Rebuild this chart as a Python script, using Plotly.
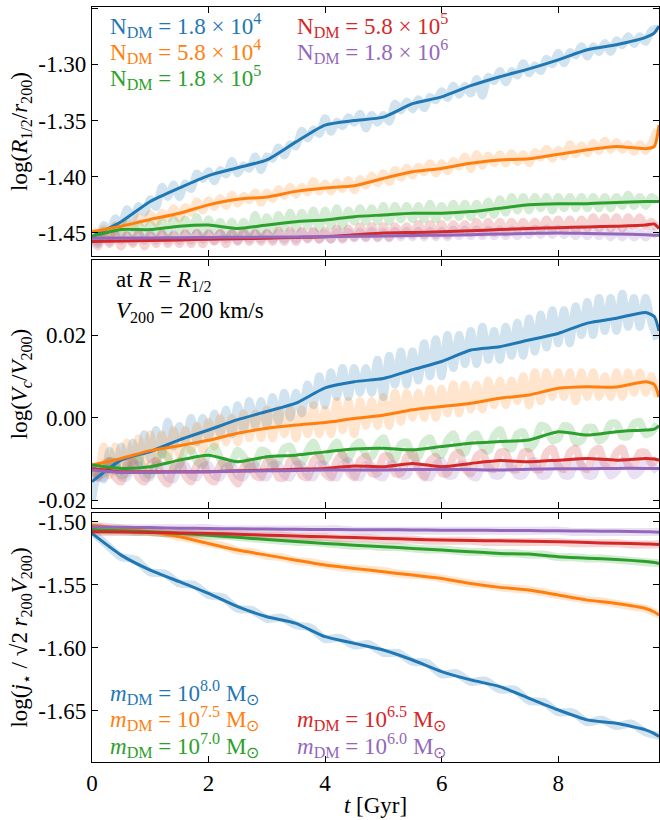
import numpy as np
import plotly.graph_objects as go

# ---------------- data ----------------
t_s = [0, 0.5, 1, 1.5, 2, 2.5, 3, 3.5, 4, 4.5, 5, 5.5, 6, 6.5, 7, 7.5, 8, 8.5, 9, 9.5, 9.65, 9.73]
t_raw = np.round(np.arange(0, 9.75, 0.1), 1)          # 98 samples
t_raw3 = np.arange(0, 9.76, 0.25)                      # 40 samples

colors = ["#1f77b4", "#ff7f0e", "#2ca02c", "#d62728", "#9467bd"]

# panel 1 : log(R_1/2 / r_200) smoothed
r_blue = [-1.453, -1.440, -1.422, -1.410, -1.399, -1.392, -1.385, -1.369, -1.354, -1.350, -1.347,
          -1.335, -1.329, -1.319, -1.311, -1.304, -1.296, -1.287, -1.2825, -1.276, -1.272, -1.266]
r_orange = [-1.449, -1.444, -1.438, -1.4325, -1.425, -1.420, -1.418, -1.413, -1.410, -1.408, -1.4015,
            -1.3956, -1.3926, -1.388, -1.385, -1.384, -1.380, -1.376, -1.373, -1.375, -1.373, -1.354]
r_green = [-1.453, -1.447, -1.447, -1.444, -1.443, -1.446, -1.443, -1.440, -1.4385, -1.4355, -1.434,
           -1.4325, -1.4325, -1.431, -1.428, -1.425, -1.424, -1.424, -1.423, -1.422, -1.422, -1.422]
r_red = [-1.4577, -1.4572, -1.4568, -1.4562, -1.4556, -1.4552, -1.4547, -1.454, -1.4533, -1.4517, -1.450,
         -1.4495, -1.449, -1.448, -1.447, -1.446, -1.4453, -1.4447, -1.444, -1.443, -1.442, -1.446]
r_purple = [-1.4547, -1.4545, -1.4544, -1.4542, -1.454, -1.4538, -1.4537, -1.4535, -1.4533, -1.453, -1.4527,
            -1.4523, -1.452, -1.4515, -1.451, -1.4505, -1.450, -1.4505, -1.451, -1.4515, -1.452, -1.452]

# panel 1 raw
rr_blue = [-1.453, -1.460, -1.443, -1.448, -1.437, -1.442, -1.429, -1.437, -1.426, -1.432,
           -1.420, -1.427, -1.409, -1.418, -1.407, -1.418, -1.406, -1.411, -1.397, -1.402,
           -1.395, -1.404, -1.394, -1.398, -1.386, -1.397, -1.390, -1.393, -1.382, -1.394,
           -1.382, -1.384, -1.374, -1.381, -1.371, -1.373, -1.359, -1.366, -1.358, -1.362,
           -1.348, -1.360, -1.351, -1.355, -1.347, -1.352, -1.344, -1.357, -1.345, -1.352,
           -1.345, -1.351, -1.335, -1.341, -1.333, -1.340, -1.331, -1.339, -1.329, -1.332,
           -1.324, -1.330, -1.319, -1.327, -1.319, -1.326, -1.313, -1.328, -1.311, -1.315,
           -1.306, -1.316, -1.306, -1.310, -1.299, -1.308, -1.301, -1.306, -1.295, -1.300,
           -1.290, -1.299, -1.289, -1.292, -1.284, -1.293, -1.284, -1.289, -1.281, -1.289,
           -1.2785, -1.283, -1.275, -1.282, -1.275, -1.280, -1.270, -1.268]
rr_orange = [-1.447, -1.453, -1.446, -1.455, -1.443, -1.448, -1.440, -1.446, -1.436, -1.441,
             -1.433, -1.441, -1.432, -1.437, -1.428, -1.437, -1.427, -1.432, -1.422, -1.430,
             -1.421, -1.427, -1.419, -1.426, -1.416, -1.424, -1.417, -1.421, -1.414, -1.423,
             -1.414, -1.420, -1.411, -1.417, -1.409, -1.416, -1.409, -1.414, -1.404, -1.413,
             -1.406, -1.413, -1.405, -1.411, -1.403, -1.412, -1.402, -1.408, -1.399, -1.406,
             -1.397, -1.405, -1.394, -1.401, -1.392, -1.399, -1.391, -1.396, -1.388, -1.397,
             -1.388, -1.395, -1.386, -1.391, -1.382, -1.393, -1.380, -1.390, -1.381, -1.388,
             -1.380, -1.388, -1.379, -1.387, -1.380, -1.388, -1.378, -1.383, -1.375, -1.384,
             -1.376, -1.382, -1.371, -1.380, -1.372, -1.379, -1.370, -1.377, -1.368, -1.376,
             -1.369, -1.376, -1.371, -1.378, -1.371, -1.377, -1.370, -1.358]
rr_green = [-1.452, -1.456, -1.448, -1.454, -1.444, -1.452, -1.442, -1.450, -1.442, -1.452,
            -1.442, -1.450, -1.440, -1.450, -1.438, -1.448, -1.438, -1.448, -1.436, -1.450,
            -1.438, -1.448, -1.440, -1.452, -1.440, -1.452, -1.440, -1.450, -1.434, -1.450,
            -1.436, -1.448, -1.434, -1.446, -1.432, -1.446, -1.432, -1.444, -1.430, -1.446,
            -1.430, -1.444, -1.428, -1.444, -1.430, -1.440, -1.428, -1.440, -1.428, -1.440,
            -1.426, -1.440, -1.426, -1.438, -1.426, -1.438, -1.426, -1.438, -1.424, -1.438,
            -1.426, -1.436, -1.424, -1.436, -1.424, -1.436, -1.424, -1.434, -1.422, -1.434,
            -1.420, -1.432, -1.418, -1.430, -1.418, -1.430, -1.418, -1.428, -1.418, -1.430,
            -1.418, -1.428, -1.418, -1.428, -1.418, -1.428, -1.418, -1.428, -1.418, -1.428,
            -1.418, -1.426, -1.416, -1.426, -1.418, -1.426, -1.418, -1.422]
rr_red = [-1.456, -1.462, -1.452, -1.460, -1.452, -1.462, -1.452, -1.460, -1.450, -1.462,
          -1.452, -1.460, -1.450, -1.460, -1.452, -1.460, -1.450, -1.460, -1.450, -1.460,
          -1.450, -1.458, -1.450, -1.460, -1.450, -1.458, -1.448, -1.458, -1.450, -1.458,
          -1.450, -1.458, -1.448, -1.458, -1.448, -1.458, -1.448, -1.456, -1.448, -1.456,
          -1.448, -1.456, -1.446, -1.456, -1.446, -1.454, -1.444, -1.454, -1.444, -1.454,
          -1.444, -1.454, -1.444, -1.452, -1.444, -1.452, -1.442, -1.452, -1.442, -1.452,
          -1.442, -1.452, -1.442, -1.450, -1.442, -1.450, -1.440, -1.450, -1.440, -1.450,
          -1.440, -1.450, -1.440, -1.448, -1.440, -1.448, -1.440, -1.448, -1.438, -1.448,
          -1.438, -1.448, -1.438, -1.448, -1.438, -1.446, -1.436, -1.446, -1.436, -1.446,
          -1.436, -1.446, -1.436, -1.444, -1.436, -1.444, -1.440, -1.446]
rr_purple = [-1.454, -1.458, -1.452, -1.458, -1.451, -1.457, -1.452, -1.458, -1.451, -1.457,
             -1.451, -1.457, -1.451, -1.457, -1.451, -1.457, -1.451, -1.457, -1.450, -1.456,
             -1.451, -1.457, -1.450, -1.456, -1.450, -1.457, -1.450, -1.456, -1.450, -1.456,
             -1.450, -1.456, -1.450, -1.456, -1.450, -1.456, -1.449, -1.455, -1.449, -1.456,
             -1.450, -1.456, -1.449, -1.455, -1.449, -1.455, -1.449, -1.455, -1.448, -1.455,
             -1.449, -1.455, -1.448, -1.454, -1.448, -1.454, -1.448, -1.454, -1.448, -1.454,
             -1.448, -1.454, -1.447, -1.453, -1.447, -1.453, -1.447, -1.453, -1.447, -1.453,
             -1.447, -1.453, -1.447, -1.453, -1.447, -1.452, -1.446, -1.452, -1.446, -1.452,
             -1.446, -1.452, -1.447, -1.453, -1.447, -1.453, -1.447, -1.453, -1.448, -1.454,
             -1.448, -1.454, -1.448, -1.454, -1.449, -1.454, -1.449, -1.453]

# panel 2 : log(Vc / V200) smoothed
v_blue = [-0.0155, -0.0103, -0.0082, -0.0054, -0.0030, -0.0005, 0.0015, 0.0035, 0.0072, 0.0087, 0.0095,
          0.0116, 0.0136, 0.0164, 0.0172, 0.0188, 0.0204, 0.0229, 0.0241, 0.0255, 0.0245, 0.0210]
v_orange = [-0.0115, -0.0099, -0.0080, -0.0068, -0.0055, -0.0038, -0.0026, -0.0018, -0.0012, -0.0002, 0.0006,
            0.0019, 0.0027, 0.0035, 0.0047, 0.0055, 0.0071, 0.0075, 0.0074, 0.0087, 0.0080, 0.0050]
v_green = [-0.0115, -0.0123, -0.0119, -0.0103, -0.0091, -0.0107, -0.0095, -0.0091, -0.0083, -0.0076, -0.0074,
           -0.0078, -0.0070, -0.0062, -0.0058, -0.0054, -0.0034, -0.0042, -0.0034, -0.0030, -0.0028, -0.0020]
v_red = [-0.0123, -0.0131, -0.0131, -0.0131, -0.0131, -0.0129, -0.0127, -0.0125, -0.0123, -0.0117, -0.0119,
         -0.0111, -0.0119, -0.0111, -0.0104, -0.0107, -0.0103, -0.0099, -0.0103, -0.0099, -0.0100, -0.0103]
v_purple = [-0.0127, -0.0133, -0.0133, -0.0132, -0.0131, -0.0130, -0.0129, -0.0128, -0.0127, -0.0127, -0.0127,
            -0.0126, -0.0125, -0.0126, -0.0127, -0.0125, -0.0124, -0.0124, -0.0123, -0.0123, -0.0123, -0.0123]

# panel 2 raw
vr_blue = [-0.0200, -0.0140, -0.0150, -0.0080, -0.0130, -0.0070, -0.0120, -0.0060, -0.0110, -0.0040,
           -0.0100, -0.0030, -0.0090, -0.0010, -0.0070, -0.0020, -0.0060, 0.0000, -0.0060, 0.0000,
           -0.0050, 0.0010, -0.0040, 0.0020, -0.0040, 0.0030, -0.0030, 0.0040, -0.0020, 0.0040,
           -0.0020, 0.0050, -0.0010, 0.0060, 0.0000, 0.0060, 0.0010, 0.0080, 0.0030, 0.0100,
           0.0030, 0.0110, 0.0050, 0.0120, 0.0050, 0.0120, 0.0060, 0.0120, 0.0060, 0.0140,
           0.0050, 0.0150, 0.0080, 0.0160, 0.0080, 0.0160, 0.0090, 0.0180, 0.0100, 0.0190,
           0.0100, 0.0200, 0.0120, 0.0200, 0.0130, 0.0210, 0.0130, 0.0220, 0.0140, 0.0210,
           0.0140, 0.0220, 0.0150, 0.0230, 0.0150, 0.0240, 0.0160, 0.0250, 0.0170, 0.0260,
           0.0180, 0.0260, 0.0180, 0.0270, 0.0200, 0.0280, 0.0200, 0.0290, 0.0210, 0.0290,
           0.0210, 0.0300, 0.0220, 0.0290, 0.0220, 0.0290, 0.0230, 0.0190]
vr_orange = [-0.0110, -0.0140, -0.0070, -0.0140, -0.0070, -0.0130, -0.0060, -0.0120, -0.0050, -0.0110,
             -0.0040, -0.0110, -0.0040, -0.0100, -0.0030, -0.0090, -0.0030, -0.0080, -0.0020, -0.0080,
             -0.0010, -0.0070, 0.0000, -0.0060, 0.0000, -0.0060, 0.0010, -0.0050, 0.0010, -0.0050,
             0.0020, -0.0050, 0.0020, -0.0040, 0.0020, -0.0050, 0.0020, -0.0040, 0.0030, -0.0040,
             0.0020, -0.0040, 0.0040, -0.0030, 0.0040, -0.0040, 0.0040, -0.0020, 0.0040, -0.0020,
             0.0050, -0.0020, 0.0060, -0.0010, 0.0060, 0.0000, 0.0060, 0.0000, 0.0070, 0.0000,
             0.0070, 0.0010, 0.0080, 0.0010, 0.0080, 0.0020, 0.0080, 0.0020, 0.0090, 0.0030,
             0.0090, 0.0030, 0.0090, 0.0040, 0.0100, 0.0030, 0.0110, 0.0040, 0.0110, 0.0050,
             0.0110, 0.0050, 0.0110, 0.0040, 0.0110, 0.0050, 0.0110, 0.0050, 0.0100, 0.0050,
             0.0110, 0.0050, 0.0110, 0.0060, 0.0110, 0.0060, 0.0100, 0.0050]
vr_green = [-0.0120, -0.0140, -0.0135, -0.0105, -0.0110, -0.0140, -0.0135, -0.0105, -0.0100, -0.0130,
            -0.0140, -0.0110, -0.0085, -0.0095, -0.0125, -0.0115, -0.0080, -0.0080, -0.0105, -0.0115,
            -0.0085, -0.0070, -0.0100, -0.0125, -0.0110, -0.0080, -0.0095, -0.0125, -0.0115, -0.0080,
            -0.0085, -0.0115, -0.0105, -0.0075, -0.0070, -0.0105, -0.0110, -0.0080, -0.0060, -0.0090,
            -0.0105, -0.0080, -0.0060, -0.0090, -0.0100, -0.0070, -0.0060, -0.0090, -0.0095, -0.0065,
            -0.0050, -0.0085, -0.0100, -0.0065, -0.0060, -0.0095, -0.0095, -0.0060, -0.0050, -0.0085,
            -0.0090, -0.0055, -0.0040, -0.0075, -0.0085, -0.0050, -0.0040, -0.0070, -0.0080, -0.0045,
            -0.0030, -0.0065, -0.0075, -0.0040, -0.0035, -0.0075, -0.0060, -0.0020, -0.0025, -0.0055,
            -0.0050, -0.0020, -0.0025, -0.0060, -0.0055, -0.0025, -0.0025, -0.0055, -0.0045, -0.0015,
            -0.0015, -0.0045, -0.0045, -0.0015, -0.0010, -0.0040, -0.0035, -0.0015]
vr_red = [-0.0120, -0.0145, -0.0115, -0.0105, -0.0145, -0.0155, -0.0115, -0.0105, -0.0145, -0.0155,
          -0.0115, -0.0105, -0.0145, -0.0160, -0.0120, -0.0105, -0.0140, -0.0155, -0.0115, -0.0105,
          -0.0145, -0.0155, -0.0115, -0.0105, -0.0140, -0.0160, -0.0120, -0.0105, -0.0140, -0.0145,
          -0.0105, -0.0105, -0.0145, -0.0145, -0.0105, -0.0105, -0.0140, -0.0145, -0.0105, -0.0095,
          -0.0135, -0.0145, -0.0105, -0.0090, -0.0130, -0.0145, -0.0105, -0.0095, -0.0135, -0.0135,
          -0.0095, -0.0095, -0.0135, -0.0135, -0.0095, -0.0085, -0.0125, -0.0145, -0.0105, -0.0095,
          -0.0135, -0.0135, -0.0095, -0.0085, -0.0125, -0.0135, -0.0095, -0.0085, -0.0120, -0.0125,
          -0.0085, -0.0085, -0.0125, -0.0125, -0.0085, -0.0085, -0.0125, -0.0125, -0.0085, -0.0075,
          -0.0115, -0.0125, -0.0085, -0.0075, -0.0115, -0.0125, -0.0085, -0.0075, -0.0115, -0.0115,
          -0.0085, -0.0075, -0.0115, -0.0115, -0.0085, -0.0085, -0.0110, -0.0100]
vr_purple = [-0.0120, -0.0145, -0.0145, -0.0115, -0.0115, -0.0145, -0.0145, -0.0115, -0.0115, -0.0145,
             -0.0145, -0.0115, -0.0115, -0.0145, -0.0150, -0.0120, -0.0115, -0.0140, -0.0145, -0.0120,
             -0.0115, -0.0140, -0.0145, -0.0120, -0.0115, -0.0140, -0.0145, -0.0120, -0.0115, -0.0140,
             -0.0145, -0.0115, -0.0115, -0.0140, -0.0145, -0.0115, -0.0115, -0.0140, -0.0145, -0.0115,
             -0.0115, -0.0140, -0.0145, -0.0115, -0.0105, -0.0140, -0.0145, -0.0115, -0.0115, -0.0140,
             -0.0145, -0.0115, -0.0115, -0.0140, -0.0140, -0.0115, -0.0115, -0.0140, -0.0145, -0.0115,
             -0.0105, -0.0140, -0.0140, -0.0115, -0.0115, -0.0140, -0.0145, -0.0115, -0.0115, -0.0140,
             -0.0140, -0.0115, -0.0115, -0.0140, -0.0140, -0.0115, -0.0105, -0.0140, -0.0140, -0.0115,
             -0.0115, -0.0140, -0.0140, -0.0105, -0.0115, -0.0140, -0.0140, -0.0105, -0.0115, -0.0140,
             -0.0130, -0.0105, -0.0115, -0.0140, -0.0130, -0.0105, -0.0115, -0.0130]

# panel 3 : log(j* / sqrt2 r200 V200) smoothed
j_blue = [-1.5092, -1.5264, -1.5383, -1.5475, -1.5568, -1.5673, -1.5753, -1.5805, -1.5911, -1.5964, -1.6017,
          -1.6096, -1.6188, -1.6254, -1.6307, -1.6400, -1.6492, -1.6571, -1.6598, -1.6650, -1.6680, -1.6703]
j_orange = [-1.5026, -1.5053, -1.5079, -1.5119, -1.5172, -1.5224, -1.5264, -1.5304, -1.5343, -1.5370, -1.5396,
            -1.5422, -1.5449, -1.5489, -1.5520, -1.5541, -1.5581, -1.5621, -1.5647, -1.5687, -1.5715, -1.5739]
j_green = [-1.5061, -1.5070, -1.5079, -1.5092, -1.5106, -1.5123, -1.5140, -1.5156, -1.5172, -1.5185, -1.5198,
           -1.5211, -1.5224, -1.5238, -1.5251, -1.5256, -1.5277, -1.5288, -1.5298, -1.5315, -1.5323, -1.5330]
j_red = [-1.5079, -1.5081, -1.5084, -1.5088, -1.5092, -1.5099, -1.5106, -1.5112, -1.5119, -1.5125, -1.5132,
         -1.5138, -1.5145, -1.5148, -1.5151, -1.5155, -1.5158, -1.5164, -1.5170, -1.5176, -1.5178, -1.5180]
j_purple = [-1.5040, -1.5043, -1.5046, -1.5050, -1.5053, -1.5055, -1.5057, -1.5059, -1.5061, -1.5062, -1.5063,
            -1.5064, -1.5066, -1.5067, -1.5068, -1.5069, -1.5071, -1.5073, -1.5075, -1.5078, -1.5080, -1.5082]

# panel 3 raw
jr_blue = [-1.508, -1.518, -1.528, -1.530, -1.540, -1.541, -1.549, -1.550, -1.558, -1.560,
           -1.569, -1.570, -1.577, -1.576, -1.582, -1.584, -1.593, -1.592, -1.598, -1.597,
           -1.604, -1.604, -1.611, -1.612, -1.621, -1.620, -1.627, -1.626, -1.633, -1.633,
           -1.642, -1.643, -1.651, -1.651, -1.659, -1.657, -1.662, -1.660, -1.667, -1.670]
jr_orange = [-1.502, -1.505, -1.505, -1.507, -1.508, -1.509, -1.512, -1.514, -1.517, -1.519,
             -1.523, -1.524, -1.527, -1.528, -1.531, -1.532, -1.534, -1.536, -1.537, -1.538,
             -1.539, -1.541, -1.542, -1.543, -1.545, -1.547, -1.549, -1.550, -1.552, -1.553,
             -1.554, -1.556, -1.558, -1.560, -1.562, -1.563, -1.565, -1.567, -1.569, -1.574]
jr_green = [-1.506, -1.507, -1.507, -1.508, -1.508, -1.509, -1.509, -1.510, -1.511, -1.511,
            -1.512, -1.513, -1.514, -1.515, -1.516, -1.516, -1.517, -1.518, -1.519, -1.519,
            -1.520, -1.520, -1.521, -1.522, -1.522, -1.523, -1.524, -1.524, -1.525, -1.525,
            -1.526, -1.526, -1.528, -1.528, -1.529, -1.529, -1.530, -1.531, -1.532, -1.533]
jr_red = [-1.508, -1.508, -1.508, -1.508, -1.508, -1.509, -1.509, -1.509, -1.509, -1.510,
          -1.510, -1.511, -1.511, -1.511, -1.512, -1.512, -1.512, -1.513, -1.513, -1.513,
          -1.514, -1.514, -1.514, -1.515, -1.515, -1.515, -1.515, -1.516, -1.516, -1.516,
          -1.516, -1.516, -1.516, -1.517, -1.517, -1.517, -1.517, -1.518, -1.518, -1.518]
jr_purple = [-1.504, -1.504, -1.505, -1.505, -1.505, -1.505, -1.505, -1.505, -1.505, -1.506,
             -1.506, -1.506, -1.506, -1.506, -1.506, -1.506, -1.506, -1.506, -1.507, -1.507,
             -1.507, -1.507, -1.507, -1.507, -1.507, -1.507, -1.507, -1.507, -1.507, -1.507,
             -1.507, -1.507, -1.507, -1.508, -1.508, -1.508, -1.508, -1.508, -1.508, -1.508]

x_ticks = [0, 2, 4, 6, 8]
y1_ticks = [-1.25, -1.30, -1.35, -1.40, -1.45]
y1_labels = ["-1.25", "-1.30", "-1.35", "-1.40", "-1.45"]
y2_ticks = [0.02, 0.0, -0.02]
y2_labels = ["0.02", "0.00", "-0.02"]
y3_ticks = [-1.50, -1.55, -1.60, -1.65]
y3_labels = ["-1.50", "-1.55", "-1.60", "-1.65"]

n_labels = ["N<sub>DM</sub> = 1.8 × 10<sup>4</sup>", "N<sub>DM</sub> = 5.8 × 10<sup>4</sup>",
            "N<sub>DM</sub> = 1.8 × 10<sup>5</sup>", "N<sub>DM</sub> = 5.8 × 10<sup>5</sup>",
            "N<sub>DM</sub> = 1.8 × 10<sup>6</sup>"]
m_labels = ["<i>m</i><sub>DM</sub> = 10<sup>8.0</sup> M<sub>⊙</sub>",
            "<i>m</i><sub>DM</sub> = 10<sup>7.5</sup> M<sub>⊙</sub>",
            "<i>m</i><sub>DM</sub> = 10<sup>7.0</sup> M<sub>⊙</sub>",
            "<i>m</i><sub>DM</sub> = 10<sup>6.5</sup> M<sub>⊙</sub>",
            "<i>m</i><sub>DM</sub> = 10<sup>6.0</sup> M<sub>⊙</sub>"]

# ---------------- figure ----------------
FONT = "Liberation Serif"
fig = go.Figure()

raw_sets = [
    ("x", "y", t_raw, [rr_blue, rr_orange, rr_green, rr_red, rr_purple]),
    ("x2", "y2", t_raw, [vr_blue, vr_orange, vr_green, vr_red, vr_purple]),
    ("x3", "y3", t_raw3, [jr_blue, jr_orange, jr_green, jr_red, jr_purple]),
]
smooth_sets = [
    ("x", "y", [r_blue, r_orange, r_green, r_red, r_purple]),
    ("x2", "y2", [v_blue, v_orange, v_green, v_red, v_purple]),
    ("x3", "y3", [j_blue, j_orange, j_green, j_red, j_purple]),
]

for xa, ya, tt, arrs in raw_sets:
    for c, arr in zip(colors, arrs):
        fig.add_trace(go.Scatter(x=tt, y=arr, xaxis=xa, yaxis=ya, mode="lines",
                                 line=dict(color=c, width=8, shape="spline", smoothing=0.7),
                                 opacity=0.2, showlegend=False, hoverinfo="skip"))
for xa, ya, arrs in smooth_sets:
    for c, arr in zip(colors, arrs):
        fig.add_trace(go.Scatter(x=t_s, y=arr, xaxis=xa, yaxis=ya, mode="lines",
                                 line=dict(color=c, width=3, shape="spline", smoothing=0.6),
                                 showlegend=False))

# plot area: x 92..659, y 7..762 of 660x820
H_plot = 755.0
def dom(top_px, bot_px):
    return [(762 - bot_px) / H_plot, (762 - top_px) / H_plot]

axis_common = dict(showline=True, linecolor="black", linewidth=1.3, mirror="ticks",
                   ticks="inside", ticklen=6, tickwidth=1.1, tickcolor="black",
                   showgrid=False, zeroline=False, automargin=False,
                   tickfont=dict(family=FONT, size=23, color="black"))

xr = [0, 9.73]
fig.update_layout(
    width=660, height=820,
    margin=dict(l=92, r=1, t=7, b=58),
    paper_bgcolor="white", plot_bgcolor="white",
    font=dict(family=FONT, size=23, color="black"),
    xaxis=dict(domain=[0, 1], anchor="y", range=xr, tickvals=x_ticks, showticklabels=False, **axis_common),
    xaxis2=dict(domain=[0, 1], anchor="y2", range=xr, tickvals=x_ticks, showticklabels=False, matches="x", **axis_common),
    xaxis3=dict(domain=[0, 1], anchor="y3", range=xr, tickvals=x_ticks, ticktext=[str(v) for v in x_ticks],
                matches="x", title=dict(text="<i>t</i> [Gyr]", font=dict(family=FONT, size=23), standoff=2),
                **axis_common),
    yaxis=dict(domain=dom(7, 256), anchor="x", range=[-1.4705, -1.249], tickvals=y1_ticks, ticktext=y1_labels,
               title=dict(text="log(<i>R</i><sub>1/2</sub>/<i>r</i><sub>200</sub>)", font=dict(family=FONT, size=23), standoff=4),
               **axis_common),
    yaxis2=dict(domain=dom(260, 508), anchor="x2", range=[-0.0219, 0.0382], tickvals=y2_ticks, ticktext=y2_labels,
                title=dict(text="log(<i>V</i><sub><i>c</i></sub>/<i>V</i><sub>200</sub>)", font=dict(family=FONT, size=23), standoff=4),
                **axis_common),
    yaxis3=dict(domain=dom(513, 762), anchor="x3", range=[-1.6905, -1.493], tickvals=y3_ticks, ticktext=y3_labels,
                title=dict(text="log(<i>j</i><sub>⋆</sub> / √2 <i>r</i><sub>200</sub><i>V</i><sub>200</sub>)", font=dict(family=FONT, size=23), standoff=4),
                **axis_common),
)

def ann(text, xpx, ypx, color):
    fig.add_annotation(text=text, xref="paper", yref="paper",
                       x=(xpx - 92) / 567.0, y=(762 - ypx) / H_plot,
                       xanchor="left", yanchor="middle", showarrow=False,
                       font=dict(family=FONT, size=23, color=color))

# panel 1 legend
ann(n_labels[0], 108, 25, colors[0])
ann(n_labels[1], 108, 52, colors[1])
ann(n_labels[2], 108, 78, colors[2])
ann(n_labels[3], 295, 25, colors[3])
ann(n_labels[4], 295, 52, colors[4])
# panel 2 notes
ann("at <i>R</i> = <i>R</i><sub>1/2</sub>", 114, 281, "black")
ann("<i>V</i><sub>200</sub> = 200 km/s", 114, 312, "black")
# panel 3 legend
ann(m_labels[0], 108, 692, colors[0])
ann(m_labels[1], 108, 718, colors[1])
ann(m_labels[2], 108, 745, colors[2])
ann(m_labels[3], 295, 718, colors[3])
ann(m_labels[4], 295, 745, colors[4])

fig.write_html("out.html", config={"displayModeBar": False},
               post_script="document.body.style.margin='0';document.body.style.padding='0';")
